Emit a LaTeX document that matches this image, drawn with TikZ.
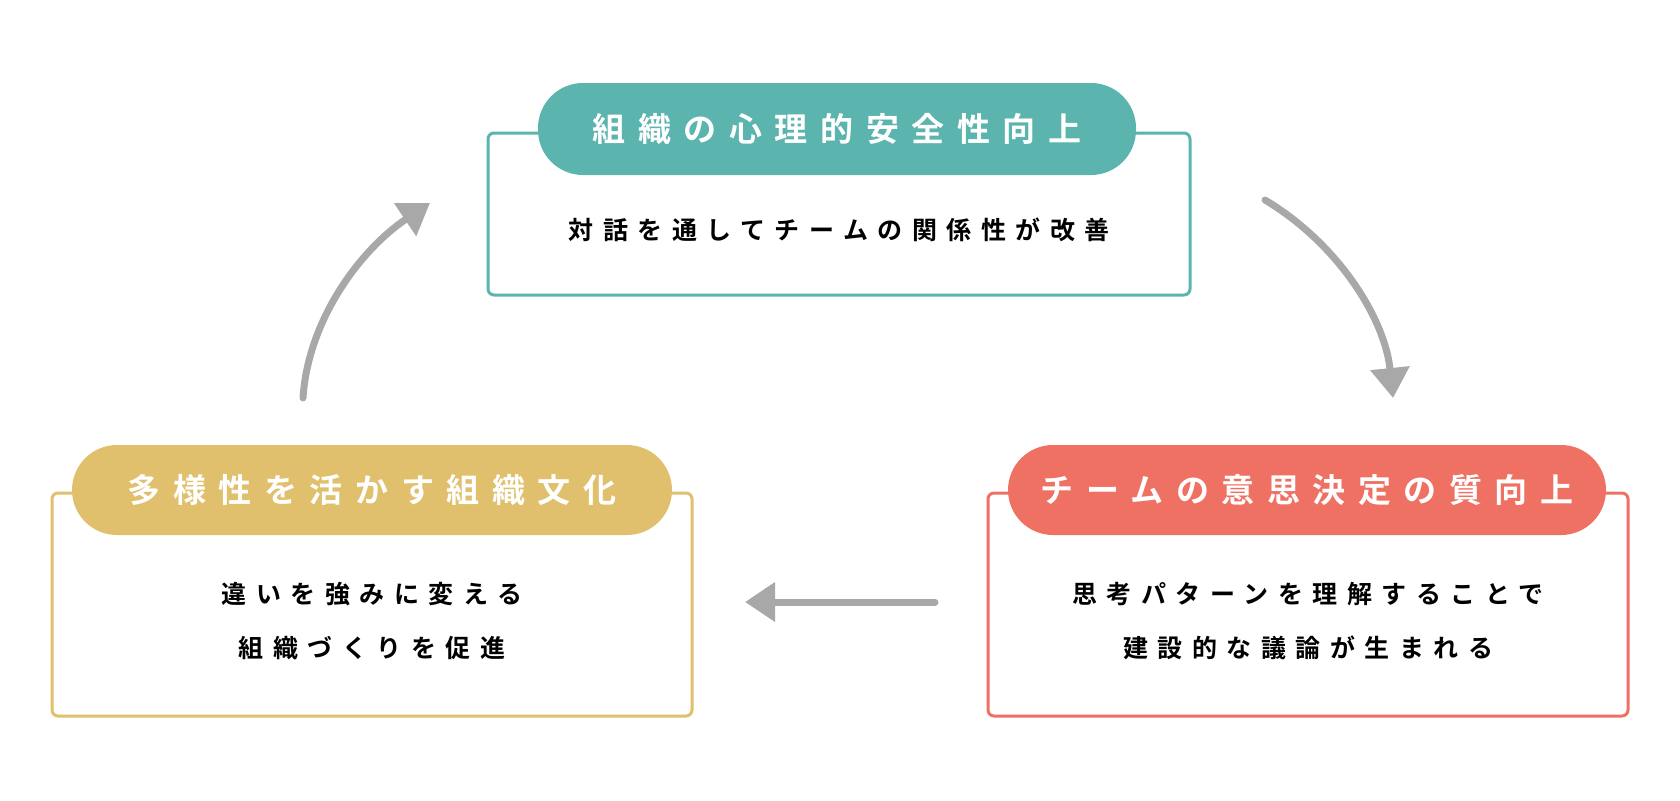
\documentclass[tikz,border=0pt]{standalone}
\usetikzlibrary{arrows.meta}
\usepackage{fontspec}
\setmainfont{Noto Sans CJK JP}[BoldFont={Noto Sans CJK JP Bold},LetterSpace=38]
\definecolor{teal}{HTML}{5BB5AE}
\definecolor{gold}{HTML}{E0C06C}
\definecolor{coral}{HTML}{EE7163}
\definecolor{arr}{HTML}{A8A8A8}
\begin{document}
\begin{tikzpicture}[x=1pt,y=-1pt,
  box/.style={draw=#1,line width=3pt,rounded corners=6pt,fill=white},
  pill/.style={fill=#1,rounded corners=45pt},
  ttl/.style={text=white,font=\fontsize{33}{40}\selectfont\bfseries},
  body/.style={text=black,font=\fontsize{25}{54}\selectfont\bfseries,align=center},
  ar/.style={draw=arr,line width=7pt,line cap=round,-{Triangle[length=30pt,width=38pt]}}]
\useasboundingbox (0,0) rectangle (1680,800);
% top
\draw[box=teal] (488,133) rectangle (1190,295);
\fill[pill=teal] (538,83) rectangle (1136,175);
\node[ttl] (t1) at (837,129) {組織の心理的安全性向上};
\node[body] (b1) at (839,230) {対話を通してチームの関係性が改善};
% left
\draw[box=gold] (52,493) rectangle (692,716);
\fill[pill=gold] (72,445) rectangle (672,535);
\node[ttl] (t3) at (372,490) {多様性を活かす組織文化};
\node[body] (b3) at (372,621) {違いを強みに変える\\組織づくりを促進};
% right
\draw[box=coral] (988,493) rectangle (1628,716);
\fill[pill=coral] (1008,445) rectangle (1606,535);
\node[ttl] (t2) at (1307,490) {チームの意思決定の質向上};
\node[body] (b2) at (1308,621) {思考パターンを理解することで\\建設的な議論が生まれる};
% arrows
\coordinate (a1) at (1265,200); \coordinate (a2) at (1393,398);
\coordinate (c1) at (935,602); \coordinate (c2) at (745,602);
\coordinate (d1) at (303,398); \coordinate (d2) at (430,203);
\draw[ar] (a1) .. controls (1340,245) and (1385,320) .. (a2);
\draw[ar] (c1) -- (c2);
\draw[ar] (d1) .. controls (308,320) and (360,250) .. (d2);
\end{tikzpicture}
\end{document}
